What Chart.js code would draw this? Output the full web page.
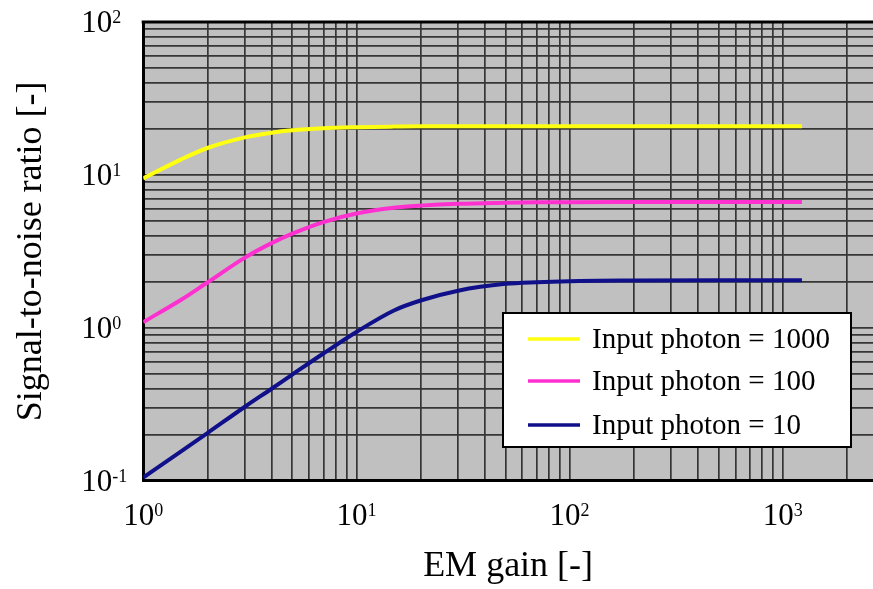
<!DOCTYPE html>
<html>
<head>
<meta charset="utf-8">
<script src="https://cdn.jsdelivr.net/npm/chart.js@4/dist/chart.umd.min.js"></script>
<style>
  html, body { margin: 0; padding: 0; background: #ffffff; }
  #wrap { width: 873px; height: 589px; overflow: hidden; }
</style>
</head>
<body>
<div id="wrap"><canvas id="snr" width="873" height="589"></canvas></div>
<script>
// EM gain values shared by all three curves
const gainValues = [1, 1.5, 2, 3, 4, 5, 7, 10, 15, 20, 30, 50, 70, 100, 200, 500, 1230];

// Signal-to-noise ratio per input photon level
const snrPhoton1000 = [9.5, 12.6, 15.0, 17.6, 18.9, 19.6, 20.2, 20.5, 20.7, 20.8, 20.8, 20.8, 20.8, 20.8, 20.8, 20.8, 20.8];
const snrPhoton100  = [1.09, 1.52, 1.98, 2.88, 3.58, 4.13, 4.92, 5.6, 6.1, 6.3, 6.48, 6.58, 6.62, 6.64, 6.65, 6.65, 6.65];
const snrPhoton10   = [0.105, 0.155, 0.205, 0.305, 0.40, 0.495, 0.68, 0.94, 1.3, 1.51, 1.75, 1.94, 1.99, 2.02, 2.04, 2.05, 2.05];

const seriesLabels = ['Input photon = 1000', 'Input photon = 100', 'Input photon = 10'];

// Log grid positions (1..9 per decade)
const xGridValues = [1, 2, 3, 4, 5, 6, 7, 8, 9,
                     10, 20, 30, 40, 50, 60, 70, 80, 90,
                     100, 200, 300, 400, 500, 600, 700, 800, 900,
                     1000, 2000];
const yGridValues = [0.1, 0.2, 0.3, 0.4, 0.5, 0.6, 0.7, 0.8, 0.9,
                     1, 2, 3, 4, 5, 6, 7, 8, 9,
                     10, 20, 30, 40, 50, 60, 70, 80, 90, 100];

// Labelled decades, written as 10 with an exponent
const xLabelPowers = ['0', '1', '2', '3'];
const yLabelPowers = ['-1', '0', '1', '2'];

const SERIF = '"Liberation Serif", "Times New Roman", serif';

function toPoints(ys) {
  return gainValues.map((g, i) => ({ x: g, y: ys[i] }));
}

// Draws "10" with a raised exponent
function drawPower(ctx, exp, x, baseline, align) {
  ctx.font = '31px ' + SERIF;
  const wBase = ctx.measureText('10').width;
  ctx.font = '18px ' + SERIF;
  const wExp = ctx.measureText(exp).width;
  let left = x;
  if (align === 'center') left = x - (wBase + wExp) / 2;
  ctx.fillStyle = '#000';
  ctx.textAlign = 'left';
  ctx.textBaseline = 'alphabetic';
  ctx.font = '31px ' + SERIF;
  ctx.fillText('10', left, baseline);
  ctx.font = '18px ' + SERIF;
  ctx.fillText(exp, left + wBase, baseline - 9);
}

const paperPlugin = {
  id: 'paper',
  beforeDraw(chart) {
    const { ctx, chartArea: a } = chart;
    ctx.save();
    ctx.fillStyle = '#c0c0c0';
    ctx.fillRect(a.left, a.top, a.right - a.left, a.bottom - a.top);
    ctx.restore();
  },
  afterDraw(chart) {
    const { ctx, chartArea: a, scales } = chart;
    ctx.save();
    // top frame line
    ctx.strokeStyle = '#000';
    ctx.lineWidth = 3;
    ctx.beginPath();
    ctx.moveTo(a.left - 1.5, a.top);
    ctx.lineTo(a.right, a.top);
    ctx.stroke();

    // decade labels
    xLabelPowers.forEach(p => {
      const px = scales.x.getPixelForValue(Math.pow(10, Number(p)));
      drawPower(ctx, p, px, a.bottom + 44, 'center');
    });
    yLabelPowers.forEach(p => {
      const py = scales.y.getPixelForValue(Math.pow(10, Number(p)));
      drawPower(ctx, p, a.left - 62, py + 10, 'left');
    });

    // legend box
    const bx = 503, by = 313, bw = 348, bh = 134;
    ctx.fillStyle = '#ffffff';
    ctx.fillRect(bx, by, bw, bh);
    ctx.strokeStyle = '#000';
    ctx.lineWidth = 2;
    ctx.strokeRect(bx, by, bw, bh);
    const rowY = [339, 381, 425];
    chart.data.datasets.forEach((ds, i) => {
      ctx.strokeStyle = ds.borderColor;
      ctx.lineWidth = 3.5;
      ctx.beginPath();
      ctx.moveTo(528, rowY[i]);
      ctx.lineTo(580, rowY[i]);
      ctx.stroke();
      ctx.fillStyle = '#000';
      ctx.font = '29px ' + SERIF;
      ctx.textAlign = 'left';
      ctx.textBaseline = 'middle';
      ctx.fillText(ds.label, 592, rowY[i] + 1);
    });
    ctx.restore();
  }
};

new Chart(document.getElementById('snr'), {
  type: 'line',
  data: {
    datasets: [
      { label: seriesLabels[0], data: toPoints(snrPhoton1000), borderColor: '#ffff10' },
      { label: seriesLabels[1], data: toPoints(snrPhoton100), borderColor: '#ff30d0' },
      { label: seriesLabels[2], data: toPoints(snrPhoton10), borderColor: '#10108a' }
    ].map(d => Object.assign(d, {
      borderWidth: 4,
      pointRadius: 0,
      fill: false,
      cubicInterpolationMode: 'monotone'
    }))
  },
  options: {
    responsive: false,
    animation: false,
    layout: { padding: { left: 10, top: 22, right: 0, bottom: 1 } },
    plugins: { legend: { display: false }, tooltip: { enabled: false } },
    scales: {
      x: {
        type: 'logarithmic',
        min: 1,
        max: 2650,
        afterBuildTicks: s => { s.ticks = xGridValues.map(v => ({ value: v })); },
        ticks: { display: false },
        grid: { color: '#363636', lineWidth: 1.7, drawTicks: false },
        border: { display: true, color: '#000', width: 3 },
        title: {
          display: true, text: 'EM gain [-]', color: '#000',
          font: { family: SERIF, size: 36 },
          padding: { top: 64, bottom: 0 }
        }
      },
      y: {
        type: 'logarithmic',
        min: 0.1,
        max: 100,
        afterBuildTicks: s => { s.ticks = yGridValues.map(v => ({ value: v })); },
        ticks: { display: false },
        grid: { color: '#363636', lineWidth: 1.7, drawTicks: false },
        border: { display: true, color: '#000', width: 3 },
        title: {
          display: true, text: 'Signal-to-noise ratio [-]', color: '#000',
          font: { family: SERIF, size: 36 },
          padding: { top: 0, bottom: 90 }
        }
      }
    }
  },
  plugins: [paperPlugin]
});
</script>
</body>
</html>
